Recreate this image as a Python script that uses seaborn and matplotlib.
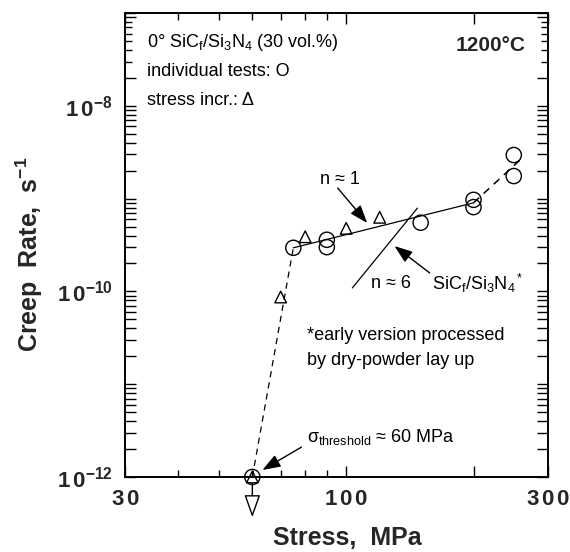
import numpy as np
import pandas as pd
import matplotlib
matplotlib.use("Agg")
import matplotlib.pyplot as plt
from matplotlib.ticker import FixedLocator, NullFormatter, NullLocator
import seaborn as sns

# individual tests (open circles)
circle_stress = [60, 75, 90, 90, 150, 200, 200, 249, 249]
circle_rate = [1e-12, 2.95e-10, 3.6e-10, 3.0e-10, 5.5e-10, 9.7e-10, 8.1e-10, 2.95e-9, 1.75e-9]

# stress increment tests (open triangles)
tri_stress = [60, 70, 80, 100, 120]
tri_rate = [1e-12, 8.7e-11, 3.88e-10, 4.78e-10, 6.29e-10]

# guide lines
thresh_stress = [60, 75]
thresh_rate = [1e-12, 2.95e-10]
n1_stress = [75, 200]
n1_rate = [2.95e-10, 9.0e-10]
upper_stress = [200, 262]
upper_rate = [9.0e-10, 2.8e-9]
n6_stress = [103.4, 147.4]
n6_rate = [1.09e-10, 7.9e-10]

x_ticks = [30, 100, 200, 300]
x_ticklabels = [r"$\mathbf{3\,0}$", r"$\mathbf{1\,0\,0}$", "", r"$\mathbf{3\,0\,0}$"]
x_minor = [40, 50, 60, 70, 80, 90]
y_decades = [-12, -11, -10, -9, -8, -7]
y_ticklabels = [r"$\mathbf{1\,0^{-12}}$", "", r"$\mathbf{1\,0^{-10}}$", "", r"$\mathbf{1\,0^{-8}}$", ""]

sns.set_style("ticks")
plt.rcParams["font.family"] = ["Liberation Sans", "DejaVu Sans"]
plt.rcParams["mathtext.fontset"] = "custom"
plt.rcParams["mathtext.rm"] = "Liberation Sans"
plt.rcParams["mathtext.it"] = "Liberation Sans:italic"
plt.rcParams["mathtext.bf"] = "Liberation Sans:bold"
plt.rcParams["mathtext.sf"] = "Liberation Sans"
plt.rcParams["mathtext.default"] = "regular"

fig = plt.figure(figsize=(5.7, 5.52), dpi=100)
ax = fig.add_axes([0.2193, 0.1359, 0.7421, 0.8405])
ax.set_xscale("log")
ax.set_yscale("log")

# lines
sns.lineplot(x=thresh_stress, y=thresh_rate, ax=ax, color="black", lw=0.9,
             linestyle=(0, (5, 4)), estimator=None, sort=False)
sns.lineplot(x=n1_stress, y=n1_rate, ax=ax, color="black", lw=0.9,
             estimator=None, sort=False)
sns.lineplot(x=upper_stress, y=upper_rate, ax=ax, color="black", lw=1.1,
             linestyle=(0, (5, 4)), estimator=None, sort=False)
sns.lineplot(x=n6_stress, y=n6_rate, ax=ax, color="black", lw=0.9,
             estimator=None, sort=False)

# markers
sns.scatterplot(x=circle_stress, y=circle_rate, ax=ax, marker="o", s=120,
                facecolor="none", edgecolor="black", linewidth=1.0, clip_on=False, zorder=4)
sns.scatterplot(x=tri_stress, y=tri_rate, ax=ax, marker="^", s=70,
                facecolor="none", edgecolor="black", linewidth=1.0, clip_on=False, zorder=4)

for sp in ax.spines.values():
    sp.set_linewidth(1.4)
    sp.set_color("black")

ax.set_xlabel("Stress,  MPa", fontsize=18, fontweight="bold")
ax.set_ylabel(r"Creep  Rate,  s$^{-1}$", fontsize=18, fontweight="bold")
ax.xaxis.set_label_coords(0.526, -0.105)
ax.yaxis.set_label_coords(-0.19, 0.48)

# annotations
txt = dict(transform=ax.transAxes, fontsize=13, color="black")
ax.text(0.052, 0.9375, r"0° SiC$_f$/Si$_3$N$_4$ (30 vol.%)", va="center", ha="left", **txt)
ax.text(0.052, 0.873, "individual tests: O", va="center", ha="left", **txt)
ax.text(0.052, 0.8125, "stress incr.: Δ", va="center", ha="left", **txt)
ax.text(0.946, 0.931, "1200°C", va="center", ha="right", transform=ax.transAxes,
        fontsize=15, fontweight="bold")
ax.text(0.508, 0.642, "n ≈ 1", va="center", ha="center", **txt)
ax.text(0.629, 0.416, "n ≈ 6", va="center", ha="center", **txt)
ax.text(0.726, 0.418, r"SiC$_f$/Si$_3$N$_4$$^*$", va="center", ha="left", **txt)
ax.text(0.430, 0.306, "*early version processed", va="center", ha="left", **txt)
ax.text(0.430, 0.252, "by dry-powder lay up", va="center", ha="left", **txt)
ax.text(0.430, 0.086, r"σ$_{threshold}$ ≈ 60 MPa", va="center", ha="left", **txt)

arrow = dict(arrowstyle="-|>,head_length=1.1,head_width=0.4", color="black", lw=1.0,
             shrinkA=0, shrinkB=0)
ax.annotate("", xy=(112.1, 5.46e-10), xytext=(95.5, 1.3e-9), arrowprops=arrow)
ax.annotate("", xy=(130.1, 3.08e-10), xytext=(157.6, 1.58e-10), arrowprops=arrow)
ax.annotate("", xy=(63.4, 1.19e-12), xytext=(78.4, 2.1e-12), arrowprops=arrow)
ax.annotate("", xy=(60, -0.087), xycoords=("data", "axes fraction"),
            xytext=(60, -0.014), textcoords=("data", "axes fraction"),
            arrowprops=dict(arrowstyle="-|>,head_length=1.4,head_width=0.5",
                            fc="white", ec="black", lw=1.0, shrinkA=0, shrinkB=0),
            annotation_clip=False)

# axes limits and ticks
ax.set_xlim(30, 300)
ax.set_ylim(1e-12, 1e-7)

y_major = [10.0 ** d for d in y_decades]
y_minor = [m * 10.0 ** d for d in y_decades[:-1] for m in range(2, 10)]
y_all = sorted(y_major + y_minor)
label_map = dict(zip(y_major, y_ticklabels))

ax.xaxis.set_major_locator(FixedLocator(x_ticks))
ax.set_xticklabels(x_ticklabels)
ax.xaxis.set_minor_locator(FixedLocator(x_minor))
ax.xaxis.set_minor_formatter(NullFormatter())

# all y ticks go on the major locator (decades get longer marks below)
ax.yaxis.set_major_locator(FixedLocator(y_all))
ax.set_yticklabels([label_map.get(v, "") for v in y_all])
ax.yaxis.set_minor_locator(NullLocator())

ax.tick_params(which="both", direction="in", top=True, right=True, color="black", width=1.0)
ax.tick_params(axis="x", which="major", length=8, labelsize=16, pad=9)
ax.tick_params(axis="x", which="minor", length=5)
ax.tick_params(axis="y", which="major", length=5, labelsize=16, pad=9)

fig.canvas.draw()
for t in ax.yaxis.get_major_ticks():
    if any(np.isclose(t.get_loc(), v, rtol=1e-6) for v in y_major):
        t.tick1line.set_markersize(8)
        t.tick2line.set_markersize(8)

fig.savefig("out.png", dpi=100)
